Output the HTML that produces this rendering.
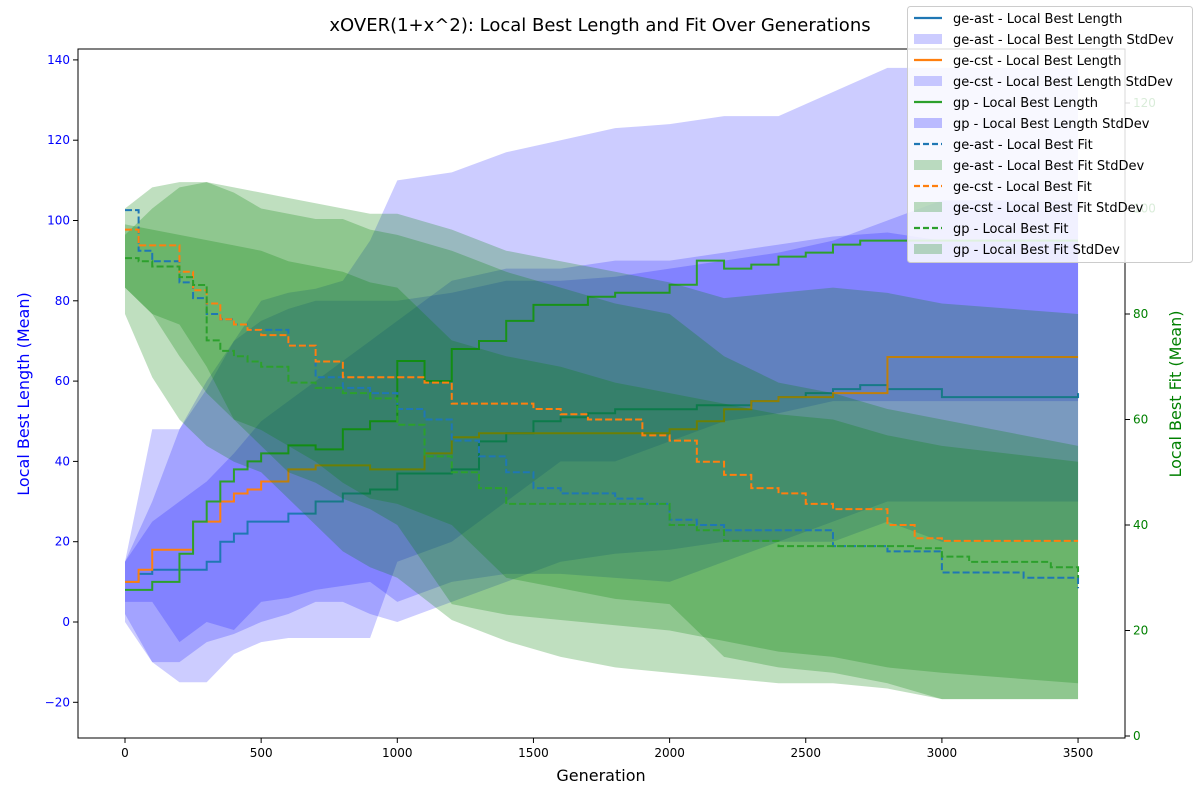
<!DOCTYPE html>
<html><head><meta charset="utf-8">
<style>
body{margin:0;background:#fff;font-family:"Liberation Sans","DejaVu Sans",sans-serif;}
#wrap{position:relative;width:1200px;height:800px;overflow:hidden;}
svg text{font-family:"DejaVu Sans","Liberation Sans",sans-serif;}
</style></head>
<body>
<div id="wrap">
<svg id="chart" width="1200" height="800"></svg>
</div>
<script>
const gens=[0,50,100,200,250,300,350,400,450,500,600,700,800,900,1000,1100,1200,1300,1400,1500,1600,1700,1800,1900,2000,2100,2200,2300,2400,2500,2600,2700,2800,2900,3000,3100,3200,3300,3400,3500];
const astLen=[10,12,13,13,13,15,20,22,25,25,27,30,32,33,37,37,38,45,47,50,51,52,53,53,53,54,54,55,56,57,58,59,58,58,56,56,56,56,56,57];
const cstLen=[10,13,18,18,25,25,30,32,33,35,38,39,39,38,38,42,46,47,47,47,47,47,47,47,48,50,53,55,56,56,57,57,66,66,66,66,66,66,66,66];
const gpLen=[8,8,10,17,25,30,35,38,40,42,44,43,48,50,65,60,68,70,75,79,79,81,82,82,84,90,88,89,91,92,94,95,95,95,95,95,95,95,95,95];
const astFit=[99.7,92,90,86,83,80,79,78,77,77,74,68,66,65,62,60,56,53,50,47,46,46,45,44,41,40,39,39,39,39,36,36,35,35,31,31,31,30,30,28];
const cstFit=[96,93,93,88,84.5,82,79,78,77,76,74,71,68,68,68,67,63,63,63,62,61,60,60,57,56,52,49.5,47,46,44,43,43,40,37.5,37,37,37,37,37,37];
const gpFit=[90.6,90,89,87,85.5,75,73,72,71,70,67,66,65,64,59,53,50,47,44,44,44,44,44,44,40,39,37,37,36,36,36,36,36,35.6,34,33,33,33,32,30];
const bandGens=[0,100,200,300,400,500,600,700,800,900,1000,1200,1400,1600,1800,2000,2200,2400,2600,2800,3000,3500];
const gpLenUp=[15,48,48,60,70,80,82,83,85,95,110,112,117,120,123,124,126,126,132,138,138,138];
const gpLenLo=[0,-10,-15,-15,-8,-5,-4,-4,-4,-4,15,20,30,40,40,45,50,52,55,55,55,55];
const astLenUp=[15,25,30,35,42,50,55,60,65,70,75,85,88,88,90,90,92,94,96,97,95,95];
const astLenLo=[2,-10,-10,-5,-3,0,2,5,5,2,0,5,10,15,17,18,20,20,20,25,20,20];
const cstLenUp=[15,30,48,58,70,75,78,80,80,80,80,82,85,85,86,88,90,92,95,100,105,105];
const cstLenLo=[5,5,-5,0,-2,5,6,8,9,10,5,10,12,12,11,10,15,20,25,30,30,30];
const gpFitUp=[100,104,105,105,104,103,102,101,100,99,99,96,92,90,88,86,83,84,85,84,82,80];
const gpFitLo=[80,68,60,55,52,50,45,40,35,32,30,22,18,15,13,12,11,10,10,9,7,7];
const astFitUp=[97,96,95,94,93,92,90,89,88,86,85,75,72,70,67,65,63,61,60,57,55,52];
const astFitLo=[85,80,78,70,60,55,50,48,45,43,40,25,23,22,21,20,18,16,15,13,12,10];
const cstFitUp=[95,100,104,105,103,100,99,98,98,96,95,92,88,85,82,80,72,67,65,62,60,55];
const cstFitLo=[85,80,72,65,60,58,55,52,48,45,44,40,30,28,26,25,15,13,12,10,7,7];
const xTicks=[0,500,1000,1500,2000,2500,3000,3500];
const yLTicks=[-20,0,20,40,60,80,100,120,140];
const yRTicks=[0,20,40,60,80,100,120];

const NS='http://www.w3.org/2000/svg';
const svg=document.getElementById('chart');
const X0=78,X1=1125,Y0=49,Y1=738;
const xs=g=>125+g*0.2723;
const yL=v=>622-v*4.015;
const yR=v=>736-v*5.275;
function el(tag,attrs,parent){const e=document.createElementNS(NS,tag);for(const k in attrs)e.setAttribute(k,attrs[k]);(parent||svg).appendChild(e);return e;}

const clip=el('clipPath',{id:'pc'});el('rect',{x:X0,y:Y0,width:X1-X0,height:Y1-Y0},clip);
const plot=el('g',{'clip-path':'url(#pc)'});

function band(up,lo,ys,fill,name){
  let pts=bandGens.map((g,i)=>xs(g)+','+ys(up[i]));
  for(let i=bandGens.length-1;i>=0;i--)pts.push(xs(bandGens[i])+','+ys(lo[i]));
  const p=el('polygon',{points:pts.join(' '),fill:fill},plot);
  
  
}
function stepLine(vals,ys,color,dash,name){
  let d='M'+xs(gens[0])+','+ys(vals[0]);
  for(let i=1;i<gens.length;i++){d+=' H'+xs(gens[i])+' V'+ys(vals[i]);}
  const p=el('path',{d:d,fill:'none',stroke:color,'stroke-width':2,'stroke-dasharray':dash||'none'},plot);
  
  
}
const B='rgba(0,0,255,0.2)',G='rgba(0,128,0,0.25)';
band(astLenUp,astLenLo,yL,B,'ge-ast-length-band');
band(cstLenUp,cstLenLo,yL,B,'ge-cst-length-band');
band(gpLenUp,gpLenLo,yL,B,'gp-length-band');
stepLine(astLen,yL,'#1f77b4','','ge-ast-length-line');
stepLine(cstLen,yL,'#ff7f0e','','ge-cst-length-line');
stepLine(gpLen,yL,'#2ca02c','','gp-length-line');
band(astFitUp,astFitLo,yR,G,'ge-ast-fit-band');
band(cstFitUp,cstFitLo,yR,G,'ge-cst-fit-band');
band(gpFitUp,gpFitLo,yR,G,'gp-fit-band');
stepLine(astFit,yR,'#1f77b4','7,3','ge-ast-fit-line');
stepLine(cstFit,yR,'#ff7f0e','7,3','ge-cst-fit-line');
stepLine(gpFit,yR,'#2ca02c','7,3','gp-fit-line');

const frame=el('rect',{x:X0,y:Y0,width:X1-X0,height:Y1-Y0,fill:'none',stroke:'#000','stroke-width':1});


xTicks.forEach(t=>{const x=xs(t);el('line',{x1:x,x2:x,y1:Y1,y2:Y1+5,stroke:'#000'});
  const tx=el('text',{x:x,y:Y1+19,'font-size':12,'text-anchor':'middle'});tx.textContent=t;
  });
yLTicks.forEach(t=>{const y=yL(t);el('line',{x1:X0-5,x2:X0,y1:y,y2:y,stroke:'#000'});
  const tx=el('text',{x:X0-8,y:y+4,'font-size':12,'text-anchor':'end',fill:'blue'});tx.textContent=t<0?'\u2212'+(-t):t;
  });
yRTicks.forEach(t=>{const y=yR(t);el('line',{x1:X1,x2:X1+5,y1:y,y2:y,stroke:'#000'});
  const tx=el('text',{x:X1+8,y:y+4,'font-size':12,'text-anchor':'start',fill:'green'});tx.textContent=t;
  });

let t=el('text',{x:600,y:31,'font-size':18,'text-anchor':'middle'});t.textContent='xOVER(1+x^2): Local Best Length and Fit Over Generations';

t=el('text',{x:601,y:781,'font-size':16,'text-anchor':'middle'});t.textContent='Generation';

t=el('text',{x:29,y:394,'font-size':16,'text-anchor':'middle',fill:'blue',transform:'rotate(-90 29 394)'});t.textContent='Local Best Length (Mean)';

t=el('text',{x:1181,y:394,'font-size':16,'text-anchor':'middle',fill:'green',transform:'rotate(-90 1181 394)'});t.textContent='Local Best Fit (Mean)';


const legend=el('g',{});

el('rect',{x:907.5,y:6.5,width:285,height:256,rx:3,fill:'rgba(255,255,255,0.85)',stroke:'#ccc'},legend);
const entries=[
['ge-ast - Local Best Length','line','#1f77b4',''],
['ge-ast - Local Best Length StdDev','patch',B],
['ge-cst - Local Best Length','line','#ff7f0e',''],
['ge-cst - Local Best Length StdDev','patch',B],
['gp - Local Best Length','line','#2ca02c',''],
['gp - Local Best Length StdDev','patch','rgba(0,0,255,0.25)'],
['ge-ast - Local Best Fit','line','#1f77b4','6,3'],
['ge-ast - Local Best Fit StdDev','patch',G],
['ge-cst - Local Best Fit','line','#ff7f0e','6,3'],
['ge-cst - Local Best Fit StdDev','patch',G],
['gp - Local Best Fit','line','#2ca02c','6,3'],
['gp - Local Best Fit StdDev','patch',G]];
entries.forEach((e,i)=>{const y=18+i*21;
  if(e[1]==='line')el('line',{x1:914,x2:942,y1:y,y2:y,stroke:e[2],'stroke-width':2.2,'stroke-dasharray':e[3]||'none'},legend);
  else el('rect',{x:914,y:y-5,width:28,height:10,fill:e[2]},legend);
  const tx=el('text',{x:953,y:y+5,'font-size':13},legend);tx.textContent=e[0];
  
});
</script>
</body></html>
